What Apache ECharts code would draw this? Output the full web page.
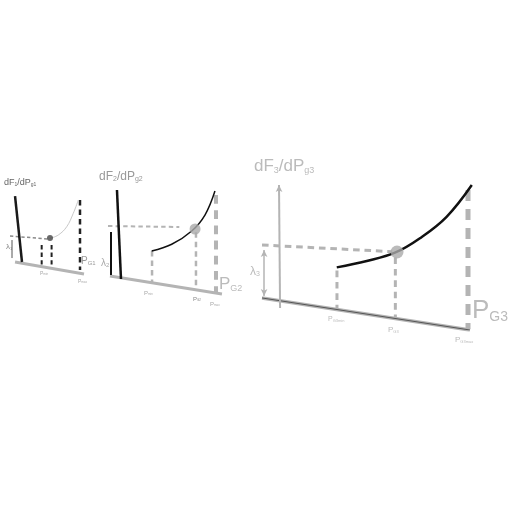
<!DOCTYPE html>
<html>
<head>
<meta charset="utf-8">
<style>
  html, body { margin: 0; padding: 0; background: #fff; }
  #Chart { width: 512px; height: 512px; }
</style>
<script src="https://cdn.jsdelivr.net/npm/echarts@6/dist/echarts.min.js"></script>
</head>
<body>
<div id="Chart"></div>
<script>
// each panel uses its own 0..100 diagram units (drawn in a slight perspective)

// panel 1 (unit 1)
var p1Base = [[6.3, 20], [92.5, 6.7]];
var p1Axis = [[6.3, 93.3], [15, 20]];
var p1Curve = [[50, 46.3], [60.4, 50], [70.9, 59.2], [79.1, 74.1], [85.4, 88.9]];
var p1Dot = [50, 46.7];
var p1Level = [[0, 48.9], [47.5, 45.6]];
var p1Lambda = [[2.5, 44.4], [2.5, 24.4]];
var p1Drops = [
    [[39.6, 38.9], [39.6, 16.7]],
    [[52, 38.9], [52, 14.4]]
];
var p1MaxDrop = [[87.5, 88.9], [87.5, 11.1]];

// panel 2 (unit 2)
var p2Base = [[1.7, 17.3], [99.1, 0.9]];
var p2Axis = [[7.8, 95.5], [11.3, 14.5]];
var p2Curve = [[38, 40], [55.4, 46.1], [72.8, 58.2], [84.3, 72.7], [93, 94.5]];
var p2Dot = [75.7, 60];
var p2Level = [[0, 62.7], [62, 61.8]];
var p2Lambda = [[2.6, 57.3], [2.6, 18.2]];
var p2Drops = [
    [[38.3, 40], [38.3, 11.1]],
    [[76.5, 57], [76.5, 4.7]]
];
var p2MaxDrop = [[93.9, 90.9], [93.9, 1.8]];

// panel 3 (unit 3)
var p3Base = [[0, 22.1], [99, 0]];
var p3Axis = [[8.1, 100], [8.6, 15.2]];
var p3Curve = [[35.6, 43.2], [49.9, 47.6], [63.3, 53.3], [75.2, 63.3], [87.9, 78.1], [99.9, 100]];
var p3Dot = [64.3, 53.8];
var p3Level = [[0, 58.6], [62, 54]];
var p3Lambda = [[1, 55.2], [1, 23.4]];
var p3Drops = [
    [[35.7, 41], [35.7, 14.1]],
    [[63.5, 50], [63.5, 7.9]]
];
var p3MaxDrop = [[98.1, 96.6], [98.1, 0.6]];

var Chart = echarts.init(document.getElementById('Chart'));

var grey = '#b4b4b4';
var font = 'Liberation Sans, Arial, sans-serif';

function seg(idx, data, color, width, dashed, z) {
    return {
        type: 'line', xAxisIndex: idx, yAxisIndex: idx,
        data: data, showSymbol: false, silent: true, z: z || 2,
        lineStyle: { color: color, width: width, type: dashed ? [width * 2.2, width * 1.6] : 'solid' }
    };
}

function curve(idx, data, color, width) {
    var s = seg(idx, data, color, width, false, 4);
    s.smooth = 0.4;
    return s;
}

function arrow(idx, from, to, color, width, both) {
    return {
        type: 'line', xAxisIndex: idx, yAxisIndex: idx, data: [], silent: true,
        markLine: {
            silent: true, animation: false,
            symbol: [both ? 'arrow' : 'none', 'arrow'], symbolSize: [5, 7],
            label: { show: false },
            lineStyle: { color: color, width: width, type: 'solid' },
            data: [[{ coord: from }, { coord: to }]]
        }
    };
}

function dot(idx, point, color, size) {
    return {
        type: 'scatter', xAxisIndex: idx, yAxisIndex: idx, silent: true, z: 5,
        data: [point], symbolSize: size, itemStyle: { color: color }
    };
}

function sub(x, y, main, low, size, color) {
    return {
        type: 'text', left: x, top: y, silent: true,
        style: {
            text: '{m|' + main + '}{s|' + low + '}',
            fill: color,
            rich: {
                m: { fontSize: size, fontFamily: font, fill: color, verticalAlign: 'bottom', lineHeight: size },
                s: { fontSize: Math.round(size * 0.55), fontFamily: font, fill: color, verticalAlign: 'bottom', lineHeight: size * 0.8 }
            }
        }
    };
}

function frac(x, y, n, size, color) {
    var s = Math.round(size * 0.55);
    return {
        type: 'text', left: x, top: y, silent: true,
        style: {
            text: '{m|dF}{s|' + n + '}{m|/dP}{s|g' + n + '}',
            rich: {
                m: { fontSize: size, fontFamily: font, fill: color, verticalAlign: 'bottom', lineHeight: size },
                s: { fontSize: s, fontFamily: font, fill: color, verticalAlign: 'bottom', lineHeight: size * 0.8 }
            }
        }
    };
}

var grids = [
    { left: 10, top: 190, width: 80, height: 90 },
    { left: 108, top: 185, width: 115, height: 110 },
    { left: 262, top: 185, width: 210, height: 145 }
];

var axesX = grids.map(function (g, i) {
    return { type: 'value', gridIndex: i, min: 0, max: 100, show: false };
});
var axesY = grids.map(function (g, i) {
    return { type: 'value', gridIndex: i, min: 0, max: 100, show: false };
});

var series = [];

// panel 1
series.push(seg(0, p1Base, grey, 3));
series.push(seg(0, p1Axis, '#1a1a1a', 2.5, false, 3));
series.push(seg(0, p1Level, '#8a8a8a', 1.5, true));
series.push(seg(0, p1Lambda, '#555', 1));
p1Drops.forEach(function (d) { series.push(seg(0, d, '#222', 2, true)); });
series.push(seg(0, p1MaxDrop, '#222', 2.5, true));
series.push(curve(0, p1Curve, '#c8c8c8', 1));
series.push(dot(0, p1Dot, '#444', 6));

// panel 2
series.push(seg(1, p2Base, grey, 3));
series.push(seg(1, p2Axis, '#111', 2.5, false, 3));
series.push(seg(1, p2Level, grey, 2, true));
series.push(seg(1, p2Lambda, '#111', 2));
p2Drops.forEach(function (d) { series.push(seg(1, d, grey, 2.5, true)); });
series.push(seg(1, p2MaxDrop, grey, 4, true));
series.push(curve(1, p2Curve, '#111', 1.5));
series.push(dot(1, p2Dot, '#aaa', 11));

// panel 3
series.push(seg(2, p3Base, grey, 3.5));
series.push(seg(2, [p3Base[0], p3Base[1]], '#555', 1, false, 3));
series.push(arrow(2, p3Axis[1], p3Axis[0], grey, 2, false));
series.push(seg(2, p3Level, grey, 3, true));
series.push(arrow(2, p3Lambda[0], p3Lambda[1], grey, 1.5, true));
p3Drops.forEach(function (d) { series.push(seg(2, d, grey, 3, true)); });
series.push(seg(2, p3MaxDrop, grey, 5, true));
series.push(curve(2, p3Curve, '#111', 2.5));
series.push(dot(2, p3Dot, '#aaa', 13));

var labels = [
    frac(4, 178, 1, 9, '#666'),
    sub(6, 243, '\u03bb', '1', 8, '#888'),
    sub(81, 256, 'P', 'G1', 10, '#999'),
    sub(40, 271, 'P', 'min', 5, '#aaa'),
    sub(78, 279, 'P', 'max', 5, '#aaa'),

    frac(99, 171, 2, 12, '#999'),
    sub(101, 258, '\u03bb', '2', 10, '#aaa'),
    sub(219, 276, 'P', 'G2', 17, '#bbb'),
    sub(144, 290, 'P', 'min', 6, '#aaa'),
    sub(193, 296, 'P', 'G2', 6, '#888'),
    sub(210, 301, 'P', 'max', 6, '#aaa'),

    frac(254, 158, 3, 17, '#bbb'),
    sub(250, 266, '\u03bb', '3', 12, '#bbb'),
    sub(472, 298, 'P', 'G3', 26, '#bbb'),
    sub(328, 316, 'P', 'G3min', 7, '#bbb'),
    sub(388, 326, 'P', 'G3', 8, '#bbb'),
    sub(455, 336, 'P', 'G3max', 8, '#bbb')
];

var ChartOption = {
    backgroundColor: '#fff',
    animation: false,
    grid: grids,
    xAxis: axesX,
    yAxis: axesY,
    series: series,
    graphic: labels
};

Chart.setOption(ChartOption);
window.addEventListener("resize", function () {
    Chart.resize();
});
</script>
</body>
</html>
